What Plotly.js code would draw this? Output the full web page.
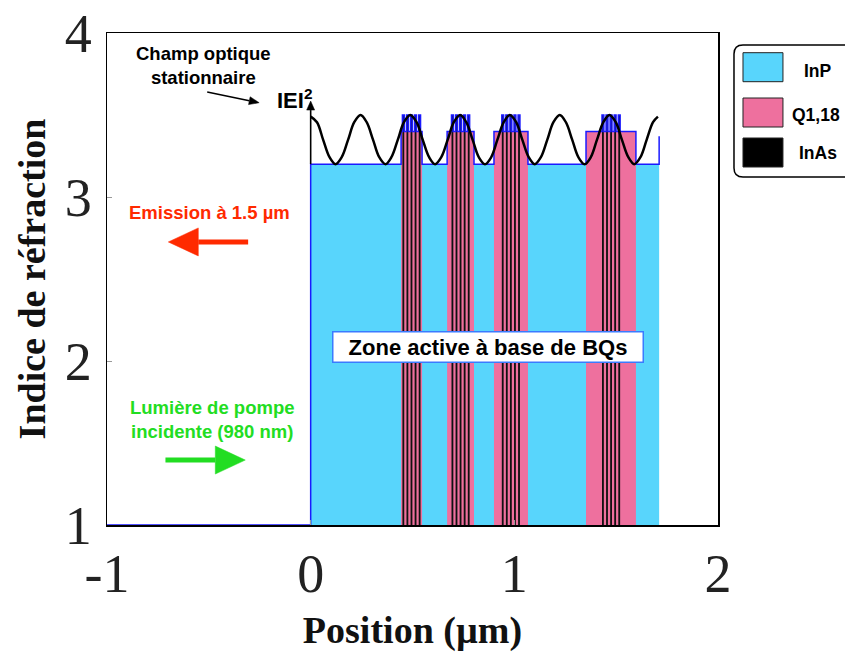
<!DOCTYPE html>
<html><head><meta charset="utf-8">
<script src="https://cdn.plot.ly/plotly-3.0.1.min.js"></script>
<style>html,body{margin:0;padding:0;background:#fff}#chart{width:845px;height:652px}</style>
</head><body><div id="chart"></div>
<script>
// ---- data ----
const nAir = 1.0, nInP = 3.2, nQ = 3.4, nInAs = 3.5;
const structureStart = 0.0;
const structureEnd = 1.711;
const endStepIndex = 3.37;
const qStart = [0.444, 0.670, 0.900, 1.352];
const qEnd   = [0.547, 0.802, 1.067, 1.597];
const inasCenter = [0.455, 0.475, 0.495, 0.515, 0.535,
                    0.696, 0.716, 0.736, 0.756, 0.776,
                    0.943, 0.963, 0.983, 1.003, 1.023,
                    1.435, 1.455, 1.475, 1.495, 1.515];
const inasWidth = 0.009;
const fieldX = [0, 0.031, 0.061, 0.092, 0.122, 0.153, 0.184, 0.214,
                0.245, 0.275, 0.306, 0.336, 0.367, 0.397, 0.428, 0.458,
                0.489, 0.520, 0.550, 0.581, 0.611, 0.642, 0.673, 0.703,
                0.734, 0.764, 0.795, 0.825, 0.856, 0.887, 0.917, 0.948,
                0.978, 1.009, 1.039, 1.070, 1.100, 1.131, 1.162, 1.192,
                1.223, 1.253, 1.284, 1.314, 1.345, 1.376, 1.406, 1.437,
                1.467, 1.498, 1.528, 1.559, 1.589, 1.620, 1.650, 1.681, 1.705];
const fieldY = [3.49, 3.456, 3.35, 3.244, 3.20, 3.244, 3.35, 3.456,
                3.50, 3.456, 3.35, 3.244, 3.20, 3.244, 3.35, 3.456,
                3.50, 3.456, 3.35, 3.244, 3.20, 3.244, 3.35, 3.456,
                3.50, 3.456, 3.35, 3.244, 3.20, 3.244, 3.35, 3.456,
                3.50, 3.456, 3.35, 3.244, 3.20, 3.244, 3.35, 3.456,
                3.50, 3.456, 3.35, 3.244, 3.20, 3.244, 3.35, 3.456,
                3.50, 3.456, 3.35, 3.244, 3.20, 3.244, 3.35, 3.456, 3.49];
const xTicks = [-1, 0, 1, 2];
const yTicks = [1, 2, 3, 4];
const materials = ['InP', 'Q1,18', 'InAs'];

// ---- colours ----
const cInP = '#58D5FC', cQ = '#EE709E', cInAs = '#111111', cOutline = '#1a1aff';

function buildProfile() {
  const xs = [-1, structureStart, structureStart], ys = [nAir, nAir, nInP];
  for (let s = 0; s < qStart.length; s++) {
    xs.push(qStart[s], qStart[s]); ys.push(nInP, nQ);
    inasCenter.filter(c => c > qStart[s] && c < qEnd[s]).forEach(c => {
      const a = c - inasWidth / 2, b = c + inasWidth / 2;
      xs.push(a, a, b, b); ys.push(nQ, nInAs, nInAs, nQ);
    });
    xs.push(qEnd[s], qEnd[s]); ys.push(nQ, nInP);
  }
  xs.push(structureEnd, structureEnd); ys.push(nInP, endStepIndex);
  return {xs, ys};
}
const prof = buildProfile();

const traces = [
  {type:'bar', name:materials[0], x:[(structureStart+structureEnd)/2], width:[structureEnd-structureStart],
   base:[nAir], y:[nInP-nAir], marker:{color:cInP, line:{width:0}}, showlegend:false, hoverinfo:'skip'},
  {type:'bar', name:materials[1], x:qStart.map((a,i)=>(a+qEnd[i])/2), width:qStart.map((a,i)=>qEnd[i]-a),
   base:qStart.map(()=>nAir), y:qStart.map(()=>nQ-nAir), marker:{color:cQ, line:{width:0}}, showlegend:false, hoverinfo:'skip'},
  {type:'bar', name:materials[2], x:inasCenter, width:inasCenter.map(()=>inasWidth),
   base:inasCenter.map(()=>nAir), y:inasCenter.map(()=>nInAs-nAir), marker:{color:cInAs, line:{width:0}}, showlegend:false, hoverinfo:'skip'},
  {type:'scatter', mode:'lines', x:prof.xs, y:prof.ys, line:{color:cOutline, width:1.5}, showlegend:false, hoverinfo:'skip'},
  {type:'scatter', mode:'lines', x:fieldX, y:fieldY, line:{color:'#000', width:2.5, shape:'spline', smoothing:1}, showlegend:false, hoverinfo:'skip'}
];

const pw = 611.3, ph = 492, pl = 106.7, pb = 525;
const px = v => (v - pl) / pw;
const py = v => (pb - v) / ph;
const sx = pw / 3, sy = ph / 3;   // pixels per data unit

function arrow(x0, y0, x1, y1, color, w, hl, hw) {
  const dx = (x1 - x0) * sx, dy = (y1 - y0) * sy, L = Math.hypot(dx, dy);
  const ux = dx / L, uy = dy / L;
  const bx = x1 - ux * hl / sx, by = y1 - uy * hl / sy;
  const nx = -uy, ny = ux;
  const p1x = bx + nx * hw / sx, p1y = by + ny * hw / sy;
  const p2x = bx - nx * hw / sx, p2y = by - ny * hw / sy;
  return [
    {type:'line', xref:'x', yref:'y', x0:x0, y0:y0, x1:bx, y1:by, line:{color:color, width:w}},
    {type:'path', xref:'x', yref:'y', path:`M${x1},${y1} L${p1x},${p1y} L${p2x},${p2y} Z`,
     fillcolor:color, line:{color:color, width:0.5}}
  ];
}

const sansB = {family:'Liberation Sans, Arial, sans-serif', color:'#000'};
const C = {xanchor:'center', yanchor:'middle', showarrow:false};
const annotations = [
  Object.assign({xref:'x', yref:'y', x:-0.08, y:3.6, text:'<b>IEI<sup>2</sup></b>',
   font:Object.assign({}, sansB, {size:22})}, C),
  Object.assign({xref:'x', yref:'y', x:-0.527, y:3.80, text:'<b>Champ optique<br>stationnaire</b>',
   font:Object.assign({}, sansB, {size:18.5})}, C),
  Object.assign({xref:'x', yref:'y', x:-0.497, y:2.904, text:'<b>Emission à 1.5 µm</b>',
   font:Object.assign({}, sansB, {size:18.5, color:'#ff2a00'})}, C),
  Object.assign({xref:'x', yref:'y', x:-0.483, y:1.646, text:'<b>Lumière de pompe<br>incidente (980 nm)</b>',
   font:Object.assign({}, sansB, {size:18.5, color:'#22dd22'})}, C),
  Object.assign({xref:'x', yref:'y', x:0.871, y:2.088, text:'<b>Zone active à base de BQs</b>',
   font:Object.assign({}, sansB, {size:22}), bgcolor:'#ffffff', bordercolor:'#3a7bff', borderwidth:1.5,
   borderpad:1, width:307, height:27}, C),
  Object.assign({xref:'paper', yref:'paper', x:px(818), y:py(71), text:'<b>'+materials[0]+'</b>',
   font:Object.assign({}, sansB, {size:17.5})}, C),
  Object.assign({xref:'paper', yref:'paper', x:px(816), y:py(115), text:'<b>'+materials[1]+'</b>',
   font:Object.assign({}, sansB, {size:17.5})}, C),
  Object.assign({xref:'paper', yref:'paper', x:px(818), y:py(153), text:'<b>'+materials[2]+'</b>',
   font:Object.assign({}, sansB, {size:17.5})}, C)
];

const rx = 9/pw, ry = 9/ph;
const bx0 = px(734), bx1 = px(860), by0 = py(177), by1 = py(45);
const shapes = [
  {type:'path', xref:'paper', yref:'paper',
   path:`M${bx1},${by1} L${bx0+rx},${by1} Q${bx0},${by1} ${bx0},${by1-ry} L${bx0},${by0+ry} Q${bx0},${by0} ${bx0+rx},${by0} L${bx1},${by0}`,
   line:{color:'#000', width:1.5}},
  {type:'rect', xref:'paper', yref:'paper', x0:px(743), x1:px(783), y0:py(81.7), y1:py(52.7), fillcolor:cInP, line:{color:'#222', width:1}},
  {type:'rect', xref:'paper', yref:'paper', x0:px(743), x1:px(783), y0:py(127), y1:py(98), fillcolor:cQ, line:{color:'#222', width:1}},
  {type:'rect', xref:'paper', yref:'paper', x0:px(743), x1:px(783), y0:py(167), y1:py(138), fillcolor:'#000', line:{color:'#222', width:1}}
].concat(
  arrow(0, 3.2, 0, 3.585, '#000', 1.6, 9, 4),
  arrow(-0.508, 3.640, -0.253, 3.575, '#000', 1.5, 10, 4),
  arrow(-0.307, 2.726, -0.699, 2.726, '#ff2a00', 5, 30, 14),
  arrow(-0.713, 1.396, -0.321, 1.396, '#22dd22', 5, 30, 14)
);

const serif = 'Liberation Serif, Times New Roman, serif';
const layout = {
  width:845, height:652,
  margin:{l:107, r:127, t:33, b:127},
  paper_bgcolor:'#fff', plot_bgcolor:'#fff',
  barmode:'overlay', showlegend:false,
  xaxis:{range:[-1,2], tickvals:xTicks, ticktext:xTicks.map(String), showgrid:false, zeroline:false,
         showline:true, linecolor:'#000', linewidth:1.5, mirror:true, ticks:'inside', ticklen:5, tickcolor:'#999',
         tickfont:{family:serif, size:54, color:'#222'}, ticklabelstandoff:1,
         title:{text:'<b>Position (µm)</b>', font:{family:serif, size:38, color:'#111'}, standoff:16}},
  yaxis:{range:[1,4], tickvals:yTicks, ticktext:yTicks.map(String), showgrid:false, zeroline:false,
         showline:true, linecolor:'#000', linewidth:1.5, mirror:true, ticks:'inside', ticklen:5, tickcolor:'#999',
         tickfont:{family:serif, size:54, color:'#222'}, ticklabelstandoff:3,
         title:{text:'<b>Indice de réfraction</b>', font:{family:serif, size:38, color:'#111'}, standoff:7}},
  annotations, shapes
};
Plotly.newPlot('chart', traces, layout, {displayModeBar:false, staticPlot:true});
</script></body></html>
